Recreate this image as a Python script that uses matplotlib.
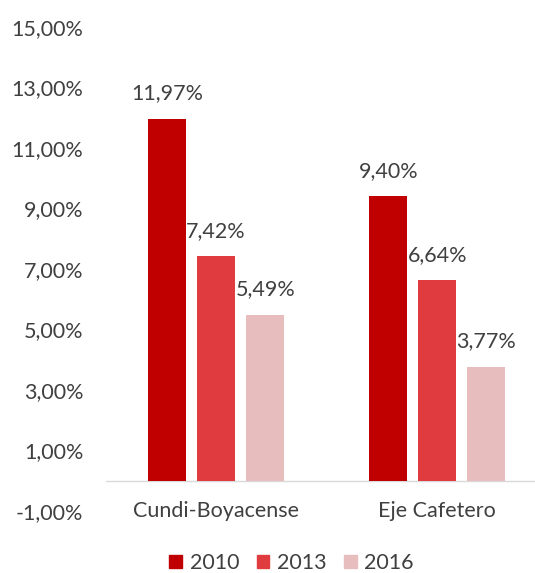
import matplotlib.pyplot as plt
import numpy as np
from matplotlib.patches import Patch

regions = ["Cundi-Boyacense", "Eje Cafetero"]
years = ["2010", "2013", "2016"]
v2010 = [11.97, 9.40]
v2013 = [7.42, 6.64]
v2016 = [5.49, 3.77]
colors = ["#C00000", "#E03C3F", "#E8BDBE"]
yticks = [-1, 1, 3, 5, 7, 9, 11, 13, 15]

plt.rcParams['font.family'] = ['Lato', 'DejaVu Sans']
txt = "#404040"
fs = 15.5

fig = plt.figure(figsize=(5.35, 5.73), dpi=100)
ax = fig.add_axes([105.5 / 535, 62 / 573, (548 - 105.5) / 535, 484 / 573])

x = np.arange(len(regions))
step = 49 / 221
w = 38 / 221
for i, vals in enumerate([v2010, v2013, v2016]):
    pos = x + (i - 1) * step
    ax.bar(pos, vals, width=w, color=colors[i], zorder=2)
    for p, v in zip(pos, vals):
        ax.text(p, v + 0.5, ("%.2f" % v).replace(".", ",") + "%",
                ha='center', va='bottom', fontsize=fs, color=txt)

ax.set_xlim(-0.5, 1.5)
ax.set_ylim(-1, 15)
ax.set_yticks(yticks)
ax.set_yticklabels([("%.2f" % t).replace(".", ",") + "%" for t in yticks],
                   fontsize=fs, color=txt)
ax.tick_params(axis='y', length=0, pad=16)
ax.set_xticks([])
for s in ax.spines.values():
    s.set_visible(False)
ax.axhline(0, color="#D9D9D9", lw=1, zorder=1)
for xi, r in zip(x, regions):
    ax.text(xi, -1, r, ha='center', va='center', fontsize=fs, color=txt)

handles = [Patch(color=c) for c in colors]
fig.legend(handles, years, loc='center', bbox_to_anchor=(0.545, 10 / 573),
           ncol=3, frameon=False, fontsize=fs, handlelength=0.6, handleheight=0.6,
           handletextpad=0.35, columnspacing=0.8, labelcolor=txt)

fig.savefig("out.png", dpi=100)
